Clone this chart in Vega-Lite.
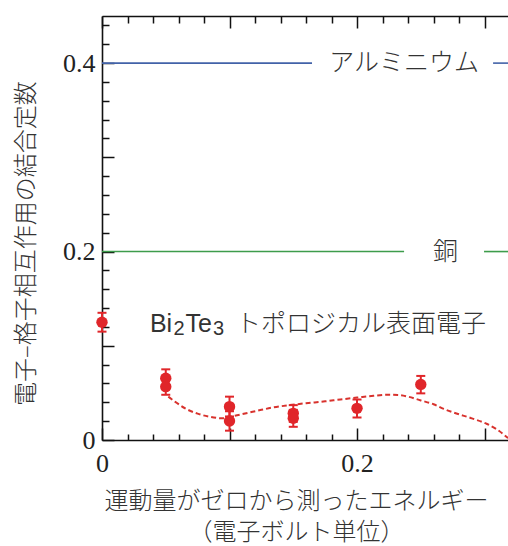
{
  "$schema": "https://vega.github.io/schema/vega-lite/v6.json",
  "width": 406,
  "height": 424,
  "autosize": {"type": "none"},
  "padding": {"left": 102, "top": 16, "right": 0, "bottom": 106},
  "background": "white",
  "config": {"view": {"stroke": null}, "axis": {"grid": false}},
  "datasets": {
    "lines": [
      {"x": 0, "x2": 0.1647, "y": 0.4, "m": "Al"},
      {"x": 0.3067, "x2": 0.3184, "y": 0.4, "m": "Al"},
      {"x": 0, "x2": 0.2369, "y": 0.2, "m": "Cu"},
      {"x": 0.2996, "x2": 0.3184, "y": 0.2, "m": "Cu"}
    ],
    "curve": [
      {"x": 0.052, "y": 0.046}, {"x": 0.058, "y": 0.040}, {"x": 0.066, "y": 0.033},
      {"x": 0.075, "y": 0.028}, {"x": 0.085, "y": 0.0245}, {"x": 0.095, "y": 0.023},
      {"x": 0.105, "y": 0.026}, {"x": 0.115, "y": 0.029}, {"x": 0.125, "y": 0.032},
      {"x": 0.134, "y": 0.0345}, {"x": 0.147, "y": 0.037}, {"x": 0.16, "y": 0.039},
      {"x": 0.175, "y": 0.041}, {"x": 0.187, "y": 0.043}, {"x": 0.2, "y": 0.045},
      {"x": 0.213, "y": 0.047}, {"x": 0.224, "y": 0.048}, {"x": 0.232, "y": 0.0478},
      {"x": 0.24, "y": 0.046}, {"x": 0.25, "y": 0.042}, {"x": 0.26, "y": 0.038},
      {"x": 0.268, "y": 0.033}, {"x": 0.276, "y": 0.029}, {"x": 0.29, "y": 0.023},
      {"x": 0.302, "y": 0.017}, {"x": 0.31, "y": 0.011}, {"x": 0.3184, "y": 0.002}
    ],
    "pts": [
      {"x": 0, "y": 0.125, "lo": 0.115, "hi": 0.135},
      {"x": 0.05, "y": 0.0655, "lo": 0.056, "hi": 0.075},
      {"x": 0.05, "y": 0.0566, "lo": 0.048, "hi": 0.066},
      {"x": 0.1, "y": 0.0354, "lo": 0.025, "hi": 0.046},
      {"x": 0.1, "y": 0.0202, "lo": 0.0099, "hi": 0.0305},
      {"x": 0.15, "y": 0.0283, "lo": 0.0193, "hi": 0.037},
      {"x": 0.15, "y": 0.023, "lo": 0.014, "hi": 0.032},
      {"x": 0.2, "y": 0.0336, "lo": 0.024, "hi": 0.043},
      {"x": 0.25, "y": 0.059, "lo": 0.0495, "hi": 0.068}
    ],
    "clabels": [
      {"x": 0.237, "y": 0.4, "t": "アルミニウム"},
      {"x": 0.2694, "y": 0.2, "t": "銅"}
    ],
    "bite": [
      {"x": 0.0376, "y": 0.115, "t": "Bi", "p": "a"},
      {"x": 0.0376, "y": 0.115, "t": "2", "p": "b"},
      {"x": 0.0376, "y": 0.115, "t": "Te", "p": "c"},
      {"x": 0.0376, "y": 0.115, "t": "3", "p": "d"},
      {"x": 0.0376, "y": 0.115, "t": "トポロジカル表面電子", "p": "e"}
    ]
  },
  "resolve": {"axis": {"x": "independent", "y": "independent"}},
  "layer": [
    {
      "data": {"name": "lines"},
      "mark": {"type": "rule", "strokeWidth": 1.6},
      "encoding": {
        "x": {"field": "x", "type": "quantitative", "scale": {"domain": [0, 0.3184], "nice": false, "zero": false},
          "axis": {"orient": "bottom", "values": [0, 0.02, 0.04, 0.06, 0.08, 0.1, 0.12, 0.14, 0.16, 0.18, 0.2, 0.22, 0.24, 0.26, 0.28, 0.3],
            "labels": false, "title": null, "domain": true, "domainColor": "#111", "domainWidth": 1.6,
            "ticks": true, "tickColor": "#111", "tickWidth": 1.5,
            "tickSize": {"condition": {"test": "abs(datum.value*10-round(datum.value*10))<0.001", "value": -12}, "value": -6}}},
        "x2": {"field": "x2"},
        "y": {"field": "y", "type": "quantitative", "scale": {"domain": [0, 0.45], "nice": false, "zero": false},
          "axis": {"orient": "left", "values": [0, 0.02, 0.04, 0.06, 0.08, 0.1, 0.12, 0.14, 0.16, 0.18, 0.2, 0.22, 0.24, 0.26, 0.28, 0.3, 0.32, 0.34, 0.36, 0.38, 0.4, 0.42, 0.44],
            "labels": false, "title": null, "domain": true, "domainColor": "#111", "domainWidth": 1.6,
            "ticks": true, "tickColor": "#111", "tickWidth": 1.5,
            "tickSize": {"condition": {"test": "abs(datum.value*10-round(datum.value*10))<0.001", "value": -12}, "value": -7}}},
        "color": {"field": "m", "type": "nominal", "scale": {"domain": ["Al", "Cu"], "range": ["#4262a8", "#3d9c4b"]}, "legend": null}
      }
    },
    {
      "data": {"name": "curve"},
      "mark": {"type": "line", "interpolate": "monotone", "strokeDash": [5, 3], "strokeWidth": 2, "color": "#d8322d", "clip": true},
      "encoding": {
        "x": {"field": "x", "type": "quantitative", "scale": {"domain": [0, 0.3184], "nice": false, "zero": false},
          "axis": {"orient": "bottom", "values": [0, 0.2], "ticks": false, "domain": false,
            "labelExpr": "datum.value == 0 ? '0' : format(datum.value, '.1f')",
            "labelFont": "Liberation Serif", "labelFontSize": 26, "labelColor": "#222", "labelPadding": 10,
            "labelFlush": false, "labelOverlap": false, "labelBaseline": "top",
            "title": ["運動量がゼロから測ったエネルギー", "（電子ボルト単位）"],
            "titleFont": "Noto Sans CJK JP", "titleFontSize": 24, "titleFontWeight": 300, "titleColor": "#333",
            "titleX": 194, "titleY": 49, "titleAlign": "center", "titleBaseline": "top", "titleLineHeight": 31}},
        "y": {"field": "y", "type": "quantitative", "scale": {"domain": [0, 0.45], "nice": false, "zero": false},
          "axis": {"orient": "left", "values": [0, 0.2, 0.4], "ticks": false, "domain": false,
            "labelExpr": "datum.value == 0 ? '0' : format(datum.value, '.1f')",
            "labelFont": "Liberation Serif", "labelFontSize": 26, "labelColor": "#222", "labelPadding": 7,
            "labelFlush": false, "labelOverlap": false, "labelBaseline": "middle",
            "title": "電子–格子相互作用の結合定数",
            "titleFont": "Noto Sans CJK JP", "titleFontSize": 24, "titleFontWeight": 300, "titleColor": "#333",
            "titleAngle": -90, "titleX": -76, "titleY": 227, "titleAlign": "center", "titleBaseline": "middle"}}
      }
    },
    {
      "data": {"name": "pts"},
      "mark": {"type": "rule", "strokeWidth": 2, "color": "#e0262a"},
      "encoding": {
        "x": {"field": "x", "type": "quantitative", "scale": {"domain": [0, 0.3184], "nice": false, "zero": false},
          "axis": {"orient": "top", "values": [0, 0.02, 0.04, 0.06, 0.08, 0.1, 0.12, 0.14, 0.16, 0.18, 0.2, 0.22, 0.24, 0.26, 0.28, 0.3],
            "labels": false, "title": null, "domain": true, "domainColor": "#111", "domainWidth": 1.6,
            "ticks": true, "tickColor": "#111", "tickWidth": 1.5,
            "tickSize": {"condition": {"test": "abs(datum.value*10-round(datum.value*10))<0.001", "value": -12}, "value": -7}}},
        "y": {"field": "lo", "type": "quantitative", "scale": {"domain": [0, 0.45], "nice": false, "zero": false}, "axis": null},
        "y2": {"field": "hi"}
      }
    },
    {
      "data": {"name": "pts"},
      "mark": {"type": "tick", "orient": "horizontal", "size": 9, "thickness": 2, "color": "#e0262a", "opacity": 1},
      "encoding": {
        "x": {"field": "x", "type": "quantitative", "scale": {"domain": [0, 0.3184], "nice": false, "zero": false}, "axis": null},
        "y": {"field": "lo", "type": "quantitative", "scale": {"domain": [0, 0.45], "nice": false, "zero": false}, "axis": null}
      }
    },
    {
      "data": {"name": "pts"},
      "mark": {"type": "tick", "orient": "horizontal", "size": 9, "thickness": 2, "color": "#e0262a", "opacity": 1},
      "encoding": {
        "x": {"field": "x", "type": "quantitative", "scale": {"domain": [0, 0.3184], "nice": false, "zero": false}, "axis": null},
        "y": {"field": "hi", "type": "quantitative", "scale": {"domain": [0, 0.45], "nice": false, "zero": false}, "axis": null}
      }
    },
    {
      "data": {"name": "pts"},
      "mark": {"type": "circle", "size": 130, "opacity": 1, "color": "#e0262a"},
      "encoding": {
        "x": {"field": "x", "type": "quantitative", "scale": {"domain": [0, 0.3184], "nice": false, "zero": false}, "axis": null},
        "y": {"field": "y", "type": "quantitative", "scale": {"domain": [0, 0.45], "nice": false, "zero": false}, "axis": null}
      }
    },
    {
      "data": {"name": "clabels"},
      "mark": {"type": "text", "font": "Noto Sans CJK JP", "fontSize": 25, "fontWeight": 300, "color": "#333", "align": "center", "baseline": "middle"},
      "encoding": {
        "x": {"field": "x", "type": "quantitative", "scale": {"domain": [0, 0.3184], "nice": false, "zero": false}, "axis": null},
        "y": {"field": "y", "type": "quantitative", "scale": {"domain": [0, 0.45], "nice": false, "zero": false}, "axis": null},
        "text": {"field": "t"}
      }
    },
    {
      "data": {"name": "bite"},
      "transform": [{"filter": "datum.p == 'a'"}],
      "mark": {"type": "text", "font": "Liberation Sans", "fontSize": 25, "color": "#333", "align": "left", "baseline": "alphabetic", "dx": 0},
      "encoding": {
        "x": {"field": "x", "type": "quantitative", "scale": {"domain": [0, 0.3184], "nice": false, "zero": false}, "axis": null},
        "y": {"field": "y", "type": "quantitative", "scale": {"domain": [0, 0.45], "nice": false, "zero": false}, "axis": null},
        "text": {"field": "t"}
      }
    },
    {
      "data": {"name": "bite"},
      "transform": [{"filter": "datum.p == 'b'"}],
      "mark": {"type": "text", "font": "Liberation Sans", "fontSize": 20, "color": "#333", "align": "left", "baseline": "alphabetic", "dx": 23.5, "dy": 3.5},
      "encoding": {
        "x": {"field": "x", "type": "quantitative", "scale": {"domain": [0, 0.3184], "nice": false, "zero": false}, "axis": null},
        "y": {"field": "y", "type": "quantitative", "scale": {"domain": [0, 0.45], "nice": false, "zero": false}, "axis": null},
        "text": {"field": "t"}
      }
    },
    {
      "data": {"name": "bite"},
      "transform": [{"filter": "datum.p == 'c'"}],
      "mark": {"type": "text", "font": "Liberation Sans", "fontSize": 25, "color": "#333", "align": "left", "baseline": "alphabetic", "dx": 35.5},
      "encoding": {
        "x": {"field": "x", "type": "quantitative", "scale": {"domain": [0, 0.3184], "nice": false, "zero": false}, "axis": null},
        "y": {"field": "y", "type": "quantitative", "scale": {"domain": [0, 0.45], "nice": false, "zero": false}, "axis": null},
        "text": {"field": "t"}
      }
    },
    {
      "data": {"name": "bite"},
      "transform": [{"filter": "datum.p == 'd'"}],
      "mark": {"type": "text", "font": "Liberation Sans", "fontSize": 20, "color": "#333", "align": "left", "baseline": "alphabetic", "dx": 63, "dy": 3.5},
      "encoding": {
        "x": {"field": "x", "type": "quantitative", "scale": {"domain": [0, 0.3184], "nice": false, "zero": false}, "axis": null},
        "y": {"field": "y", "type": "quantitative", "scale": {"domain": [0, 0.45], "nice": false, "zero": false}, "axis": null},
        "text": {"field": "t"}
      }
    },
    {
      "data": {"name": "bite"},
      "transform": [{"filter": "datum.p == 'e'"}],
      "mark": {"type": "text", "font": "Noto Sans CJK JP", "fontSize": 25, "fontWeight": 300, "color": "#333", "align": "left", "baseline": "alphabetic", "dx": 86},
      "encoding": {
        "x": {"field": "x", "type": "quantitative", "scale": {"domain": [0, 0.3184], "nice": false, "zero": false}, "axis": null},
        "y": {"field": "y", "type": "quantitative", "scale": {"domain": [0, 0.45], "nice": false, "zero": false}, "axis": null},
        "text": {"field": "t"}
      }
    }
  ]
}
